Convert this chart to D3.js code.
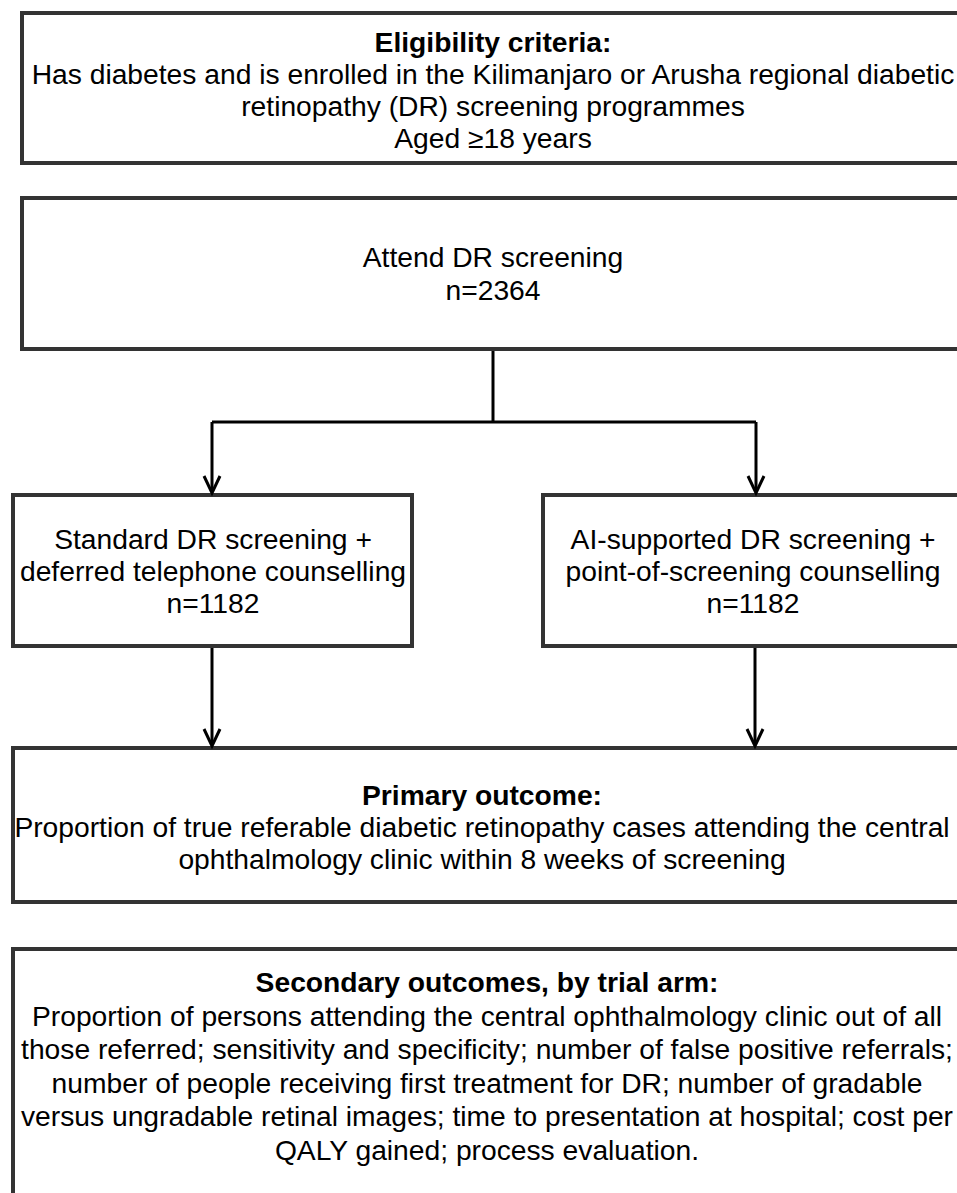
<!DOCTYPE html>
<html>
<head>
<meta charset="utf-8">
<script src="https://cdn.jsdelivr.net/npm/d3@7"></script>
<style>
  body { margin: 0; background: #fff; }
  svg { display: block; }
  text { font-family: "Liberation Sans", Arial, Helvetica, sans-serif; fill: #000; }
</style>
</head>
<body>
<div id="flow"></div>
<script>
// box contents
var eligibilityTitle = "Eligibility criteria:";
var eligibilityLines = [
    "Has diabetes and is enrolled in the Kilimanjaro or Arusha regional diabetic",
    "retinopathy (DR) screening programmes",
    "Aged \u226518 years"
];
var attendLines = ["Attend DR screening", "n=2364"];
var armNames = ["Standard DR screening +", "AI-supported DR screening +"];
var armCounselling = ["deferred telephone counselling", "point-of-screening counselling"];
var armCounts = [1182, 1182];
var primaryTitle = "Primary outcome:";
var primaryLines = [
    "Proportion of true referable diabetic retinopathy cases attending the central",
    "ophthalmology clinic within 8 weeks of screening"
];
var secondaryTitle = "Secondary outcomes, by trial arm:";
var secondaryLines = [
    "Proportion of persons attending the central ophthalmology clinic out of all",
    "those referred; sensitivity and specificity; number of false positive referrals;",
    "number of people receiving first treatment for DR; number of gradable",
    "versus ungradable retinal images; time to presentation at hospital; cost per",
    "QALY gained; process evaluation."
];

var width = 957,
    height = 1193,
    fontSize = 27.5,
    stretch = 1.027;

var svg = d3.select("#flow")
    .append("svg")
    .attr("width", width)
    .attr("height", height);

// layout of the boxes
var boxes = [
    { x0: 22, y0: 13, x1: 966, y1: 163, cx: 493, base: 52, step: 32,
      lines: [{ t: eligibilityTitle, b: true }].concat(eligibilityLines.map(function (t) { return { t: t }; })) },
    { x0: 22, y0: 198, x1: 966, y1: 349, cx: 493, base: 267, step: 33,
      lines: attendLines.map(function (t) { return { t: t }; }) },
    { x0: 13, y0: 495, x1: 412, y1: 646, cx: 213, base: 549, step: 32,
      lines: [{ t: armNames[0] }, { t: armCounselling[0] }, { t: "n=" + armCounts[0] }] },
    { x0: 543, y0: 495, x1: 968, y1: 646, cx: 753, base: 549, step: 32,
      lines: [{ t: armNames[1] }, { t: armCounselling[1] }, { t: "n=" + armCounts[1] }] },
    { x0: 13, y0: 748, x1: 962, y1: 902, cx: 482, base: 805, step: 32,
      lines: [{ t: primaryTitle, b: true }].concat(primaryLines.map(function (t) { return { t: t }; })) },
    { x0: 13, y0: 949, x1: 962, y1: 1230, cx: 487, base: 992, step: 33.6,
      lines: [{ t: secondaryTitle, b: true }].concat(secondaryLines.map(function (t) { return { t: t }; })) }
];

var g = svg.selectAll("g.box")
    .data(boxes)
    .enter()
    .append("g")
    .attr("class", "box");

g.append("rect")
    .attr("x", function (d) { return d.x0; })
    .attr("y", function (d) { return d.y0; })
    .attr("width", function (d) { return d.x1 - d.x0; })
    .attr("height", function (d) { return d.y1 - d.y0; })
    .attr("fill", "#fff")
    .attr("stroke", "#333")
    .attr("stroke-width", 4);

g.each(function (d) {
    d3.select(this).selectAll("text")
        .data(d.lines)
        .enter()
        .append("text")
        .attr("transform", function (l, i) {
            return "translate(" + d.cx + "," + (d.base + i * d.step) + ") scale(" + stretch + ",1)";
        })
        .attr("text-anchor", "middle")
        .style("font-size", fontSize + "px")
        .style("font-weight", function (l) { return l.b ? "bold" : "normal"; })
        .text(function (l) { return l.t; });
});

// connectors
var line = d3.line();
var connectors = [
    [[493, 351], [493, 422]],
    [[212, 422], [756, 422]],
    [[212, 422], [212, 492]],
    [[756, 422], [756, 492]],
    [[212, 648], [212, 745]],
    [[755, 648], [755, 745]]
];
var heads = [[212, 493], [756, 493], [212, 746], [755, 746]];

svg.selectAll("path.link")
    .data(connectors)
    .enter()
    .append("path")
    .attr("class", "link")
    .attr("d", line)
    .attr("fill", "none")
    .attr("stroke", "#000")
    .attr("stroke-width", 3);

svg.selectAll("path.head")
    .data(heads)
    .enter()
    .append("path")
    .attr("class", "head")
    .attr("d", function (p) {
        return line([[p[0] - 8, p[1] - 17], [p[0], p[1]], [p[0] + 8, p[1] - 17]]);
    })
    .attr("fill", "none")
    .attr("stroke", "#000")
    .attr("stroke-width", 3);
</script>
</body>
</html>
